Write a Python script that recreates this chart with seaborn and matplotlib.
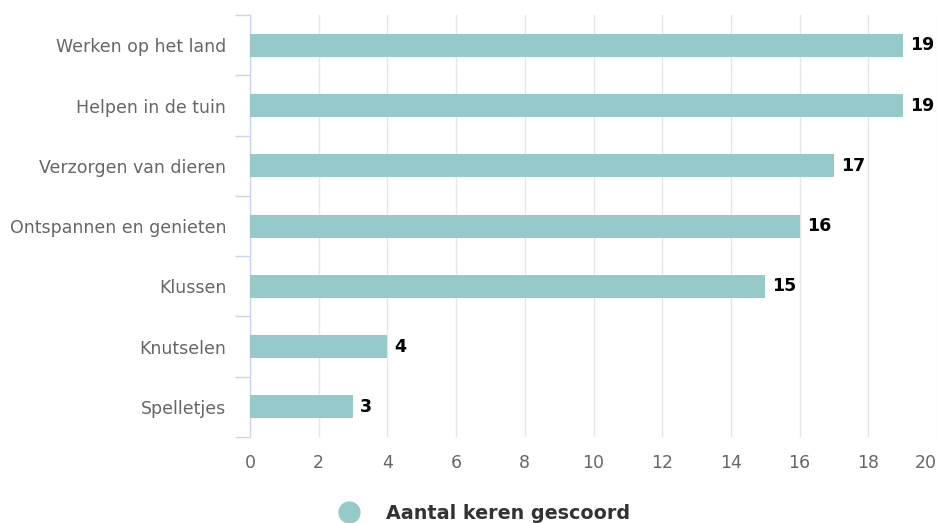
import pandas as pd
import matplotlib.pyplot as plt
import seaborn as sns
import numpy as np
from matplotlib.lines import Line2D

categories = ['Werken op het land', 'Helpen in de tuin', 'Verzorgen van dieren',
              'Ontspannen en genieten', 'Klussen', 'Knutselen', 'Spelletjes']
scores = [19, 19, 17, 16, 15, 4, 3]
series_name = 'Aantal keren gescoord'

df = pd.DataFrame({'activiteit': categories, 'score': scores})

sns.set_style('white')
plt.rcParams['font.family'] = ['DejaVu Sans']

fig = plt.figure(figsize=(9.38, 5.23), dpi=100)
ax = fig.add_axes([0.2665, 0.1644, 0.7325, 0.8066])

sns.barplot(data=df, x='score', y='activiteit', orient='h', color='#96caca',
            saturation=1, width=0.38, linewidth=0, ax=ax, zorder=3)

ax.set_xlim(0, 20)
ax.set_ylim(len(categories) - 0.5, -0.5)
ax.set_xticks(range(0, 21, 2))
ax.xaxis.grid(True, color='#e6e6e6', linewidth=1, zorder=0)
ax.set_axisbelow(True)
ax.set_xlabel('')
ax.set_ylabel('')

for s in ['top', 'right', 'bottom']:
    ax.spines[s].set_visible(False)
ax.spines['left'].set_color('#ccd6eb')
ax.spines['left'].set_linewidth(1)

ax.tick_params(axis='x', length=0, labelsize=12.5, labelcolor='#666666', pad=12)
ax.tick_params(axis='y', which='major', length=0, labelsize=12.5, labelcolor='#666666', pad=17)
ax.set_yticks(np.arange(-0.5, len(categories), 1), minor=True)
ax.tick_params(axis='y', which='minor', left=True, length=11, color='#ccd6eb', width=1)

xlabels = ax.get_xticklabels()
xlabels[-1].set_horizontalalignment('right')
xlabels[-1].set_x(20)

for i, v in enumerate(scores):
    ax.annotate(str(v), (v, i), xytext=(5, 0), textcoords='offset points',
                va='center', ha='left', fontsize=12.5, fontweight='bold', color='black')

handle = Line2D([], [], marker='o', linestyle='none', markersize=15,
                markerfacecolor='#96caca', markeredgecolor='#96caca')
leg = fig.legend([handle], [series_name], loc='center', bbox_to_anchor=(0.5115, 0.018),
                 frameon=False, handletextpad=0.9,
                 prop={'size': 13.8, 'weight': 'bold'})
for t in leg.get_texts():
    t.set_color('#333333')

fig.savefig('out.png', dpi=100)
